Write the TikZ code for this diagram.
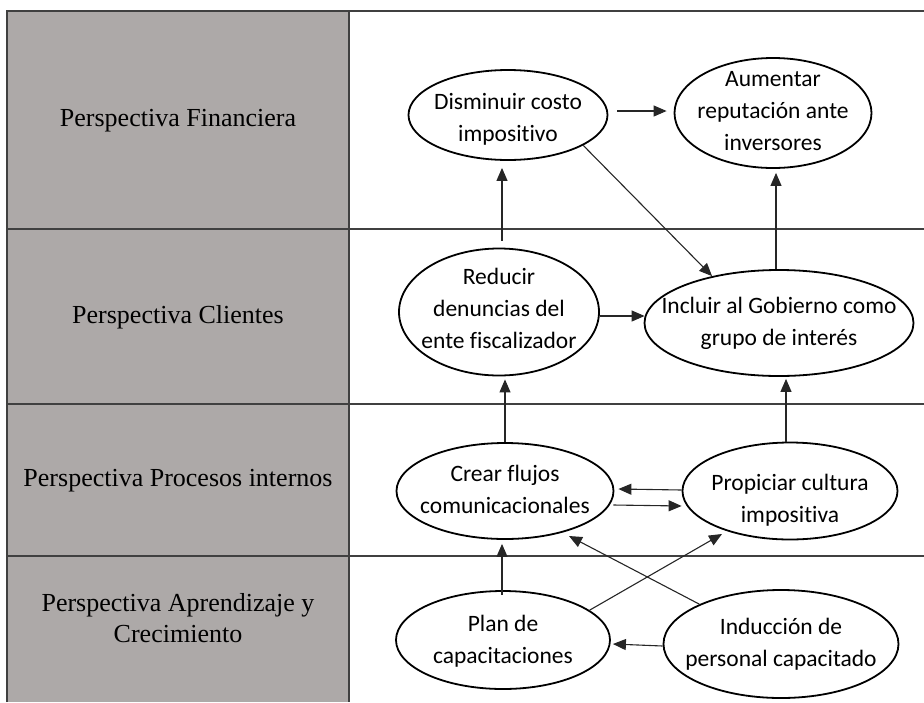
\documentclass[tikz,border=0pt]{standalone}
\usepackage{fontspec}
\setmainfont{Liberation Serif}
\newfontfamily\calib[Ligatures=NoCommon]{Carlito}
\usetikzlibrary{shapes.geometric,arrows.meta,calc}
\tikzset{
  tline/.style={draw=black!75, line width=1.3pt},
  goal/.style={ellipse, draw=black, line width=1.8pt, inner sep=0pt},
  goaltext/.style={align=center, inner sep=0pt, font=\calib\fontsize{23.5}{32}\selectfont},
  persp/.style={align=center, font=\fontsize{26}{31}\selectfont},
  arr/.style={draw=black!85, line width=1.1pt, -{Triangle[length=13pt,width=11pt]}}
}
\begin{document}
\begin{tikzpicture}[x=1pt,y=-1pt]
\useasboundingbox (0,0) rectangle (924,702);
\fill[fill={rgb,255:red,173;green,169;blue,168}] (7,11) rectangle (349,702);
\draw[tline] (7,702) -- (7,11) -- (924,11);
\draw[tline] (349,11) -- (349,702);
\draw[tline] (7,229) -- (924,229);
\draw[tline] (7,404) -- (924,404);
\draw[tline] (7,556) -- (924,556);

\node[persp] (p1) at (178,121) {Perspectiva Financiera};
\node[persp] (p2) at (178,317) {Perspectiva Clientes};
\node[persp] (p3) at (178,481) {Perspectiva Procesos internos};
\node[persp] (p4) at (178,618) {Perspectiva Aprendizaje y\\Crecimiento};

\node[goal, minimum width=199, minimum height=90] (dis) at (508,115) {};
\node[goaltext] (tdis) at (508,119) {Disminuir costo\\impositivo};
\node[goal, minimum width=197, minimum height=110] (aum) at (773,113) {};
\node[goaltext] (taum) at (773,111) {Aumentar\\reputación ante\\inversores};
\node[goal, minimum width=200, minimum height=127] (red) at (499,312) {};
\node[goaltext] (tred) at (499,308) {Reducir\\denuncias del\\ente fiscalizador};
\node[goal, minimum width=269, minimum height=106] (inc) at (779,323) {};
\node[goaltext] (tinc) at (779,323) {Incluir al Gobierno como\\grupo de interés};
\node[goal, minimum width=217, minimum height=96] (cre) at (505,491) {};
\node[goaltext] (tcre) at (505,489) {Crear flujos\\comunicacionales};
\node[goal, minimum width=215, minimum height=97] (pro) at (790,491) {};
\node[goaltext] (tpro) at (790,500) {Propiciar cultura\\impositiva};
\node[goal, minimum width=214, minimum height=98] (pla) at (503,640) {};
\node[goaltext] (tpla) at (503,641) {Plan de\\capacitaciones};
\node[goal, minimum width=235, minimum height=108] (ind) at (781,644) {};
\node[goaltext] (tind) at (781,644) {Inducción de\\personal capacitado};

\draw[arr] ($(dis.east)+(9,-4)$) -- ($(aum.west)+(-7,-2)$);
\draw[arr] (dis.-22) -- (inc.145);
\draw[arr] ($(red.north)+(3,-7)$) -- ($(dis.south)+(-6,7)$);
\draw[arr] ($(inc.north)+(-3,0)$) -- ($(aum.south)+(3,4)$);
\draw[arr] ($(red.east)+(0,4)$) -- ($(inc.west)+(1,-7)$);
\draw[arr] (cre.north) -- ($(red.south)+(6,3)$);
\draw[arr] ($(pro.north)+(-4,0)$) -- ($(inc.south)+(7,2)$);
\draw[arr] ($(pro.west)+(0,-1)$) -- ($(cre.east)+(4,-2)$);
\draw[arr] ($(cre.east)+(-1,14)$) -- ($(pro.west)+(0,15)$);
\draw[arr] ($(pla.north)+(-1,5)$) -- ($(cre.south)+(-3,4)$);
\draw[arr] (pla.19) -- ($(pro.center)+(-68,43)$);
\draw[arr] (ind.154) -- ($(cre.center)+(64,45)$);
\draw[arr] ($(ind.west)+(0,2)$) -- ($(pla.east)+(2,4)$);
\end{tikzpicture}
\end{document}
